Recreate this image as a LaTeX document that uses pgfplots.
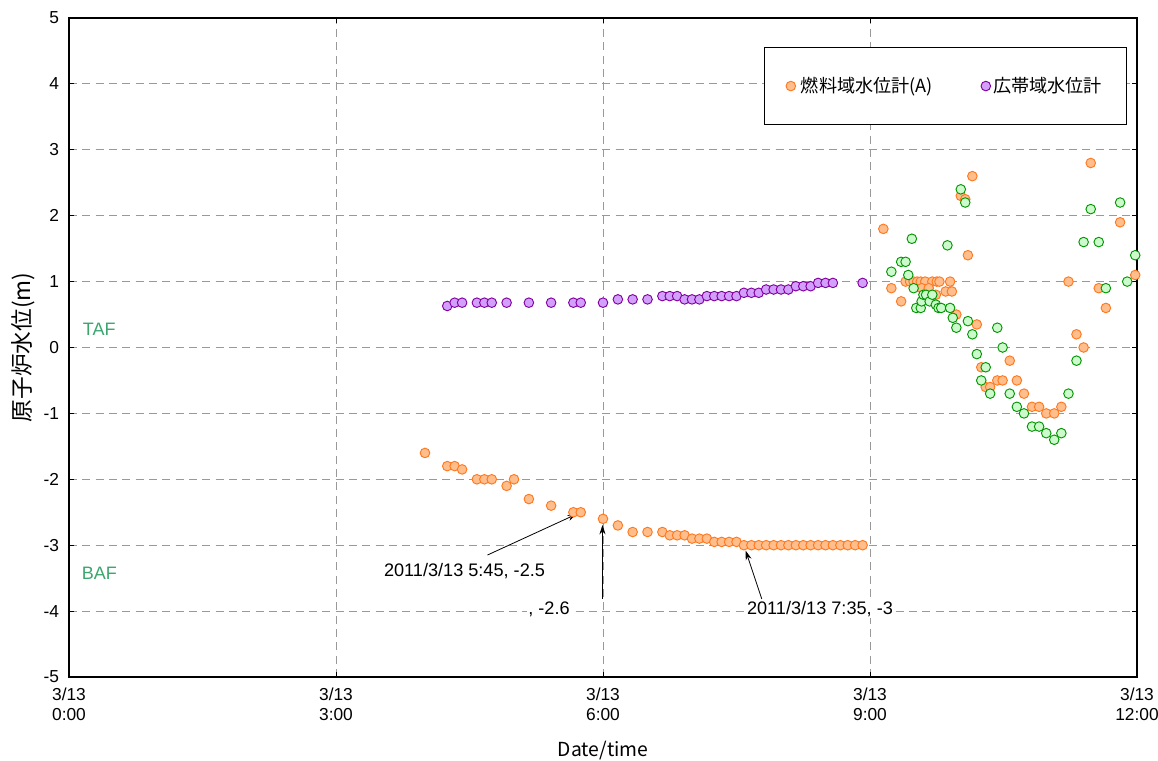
\documentclass[border=0pt]{standalone}
\usepackage{fontspec}
\setmainfont{Liberation Sans}
\newfontfamily\jp{Noto Sans CJK JP}
\usepackage{pgfplots}
\pgfplotsset{compat=1.18}
\usetikzlibrary{arrows.meta}
\definecolor{orfill}{RGB}{255,190,140}
\definecolor{ordraw}{RGB}{255,120,30}
\definecolor{pufill}{RGB}{210,160,250}
\definecolor{pudraw}{RGB}{130,0,160}
\definecolor{grfill}{RGB}{205,250,205}
\definecolor{grdraw}{RGB}{0,150,0}
\definecolor{tafc}{RGB}{60,165,110}
\begin{document}
\begin{tikzpicture}
\begin{axis}[
  scale only axis, width=801pt, height=494.25pt,
  xmin=0, xmax=12, ymin=-5, ymax=5,
  xtick={0,3,6,9,12},
  xticklabels={{3/13\\0:00},{3/13\\3:00},{3/13\\6:00},{3/13\\9:00},{3/13\\12:00}},
  ytick={-5,-4,...,5},
  /pgf/number format/assume math mode=true,
  xticklabel style={align=center, font=\fontsize{13}{15}\selectfont, yshift=-5pt},
  yticklabel style={font=\fontsize{13}{15}\selectfont, xshift=-4pt},
  grid=major,
  major grid style={gray!80, dash pattern=on 6pt off 4pt, line width=0.6pt},
  tick align=inside, major tick length=4pt,
  tick style={black, line width=0.6pt},
  axis line style={black, line width=0.8pt},
  xlabel={Date/time},
  xlabel style={font=\jp\fontsize{14.5}{16}\selectfont, at={(axis description cs:0.5,-0.111)}, anchor=center},
  ylabel={原子炉水位(m)},
  ylabel style={font=\jp\fontsize{17}{19}\selectfont, at={(axis description cs:-0.043,0.5)}, anchor=center},
  legend columns=2,
  legend style={at={(axis description cs:0.651,0.956)}, anchor=north west, draw=black, line width=0.6pt,
    font=\jp\fontsize{13.6}{16}\selectfont, inner xsep=16pt, inner ysep=20.5pt,
    /tikz/column 1/.style={column sep=2pt},
    /tikz/column 2/.style={column sep=34pt}},
  legend image code/.code={\draw[mark repeat=2,mark phase=2,#1] plot coordinates {(0cm,0cm) (0.3cm+2.5pt,0cm) (0.6cm,0cm)};},
  legend cell align=left,
]
\addplot[only marks, mark=*, mark size=3.6pt, mark options={fill=orfill, draw=ordraw, line width=0.7pt}] coordinates {
(4.000,-1.6) (4.250,-1.8) (4.333,-1.8) (4.417,-1.85) (4.583,-2.0) (4.667,-2.0) (4.750,-2.0)
(4.917,-2.1) (5.000,-2.0) (5.167,-2.3) (5.417,-2.4) (5.667,-2.5) (5.750,-2.5) (6.000,-2.6)
(6.167,-2.7) (6.333,-2.8) (6.500,-2.8) (6.667,-2.8) (6.750,-2.85) (6.833,-2.85) (6.917,-2.85)
(7.000,-2.9) (7.083,-2.9) (7.167,-2.9) (7.250,-2.95) (7.333,-2.95) (7.417,-2.95) (7.500,-2.95)
(7.583,-3.0) (7.667,-3.0) (7.750,-3.0) (7.833,-3.0) (7.917,-3.0) (8.000,-3.0) (8.083,-3.0)
(8.167,-3.0) (8.250,-3.0) (8.333,-3.0) (8.417,-3.0) (8.500,-3.0) (8.583,-3.0) (8.667,-3.0)
(8.750,-3.0) (8.833,-3.0) (8.917,-3.0)
(9.15,1.8) (9.24,0.9) (9.35,0.7)
(9.40,1.0) (9.45,1.0) (9.49,1.0) (9.53,1.0) (9.57,1.0) (9.62,1.0) (9.70,1.0) (9.75,1.0) (9.78,1.0) (9.90,1.0)
(9.58,0.9) (9.66,0.9) (9.74,0.8) (9.85,0.85) (9.92,0.85) (9.97,0.5)
(10.02,2.3) (10.07,2.25) (10.15,2.6) (10.10,1.4) (10.20,0.35) (10.25,-0.3) (10.30,-0.6) (10.35,-0.6)
(10.43,-0.5) (10.49,-0.5) (10.57,-0.2) (10.65,-0.5) (10.73,-0.7) (10.82,-0.9) (10.90,-0.9)
(10.98,-1.0) (11.07,-1.0) (11.15,-0.9) (11.23,1.0) (11.32,0.2) (11.40,0.0) (11.48,2.8)
(11.57,0.9) (11.65,0.6) (11.81,1.9) (11.98,1.1)
};
\addlegendentry{燃料域水位計(A)}
\addplot[only marks, mark=*, mark size=3.6pt, mark options={fill=pufill, draw=pudraw, line width=0.7pt}] coordinates {
(4.250,0.63) (4.333,0.68) (4.417,0.68) (4.583,0.68) (4.667,0.68) (4.750,0.68) (4.917,0.68)
(5.167,0.68) (5.417,0.68) (5.667,0.68) (5.750,0.68) (6.000,0.68) (6.167,0.73) (6.333,0.73)
(6.500,0.73) (6.667,0.78) (6.750,0.78) (6.833,0.78) (6.917,0.73) (7.000,0.73) (7.083,0.73)
(7.167,0.78) (7.250,0.78) (7.333,0.78) (7.417,0.78) (7.500,0.78) (7.583,0.83) (7.667,0.83)
(7.750,0.83) (7.833,0.88) (7.917,0.88) (8.000,0.88) (8.083,0.88) (8.167,0.93) (8.250,0.93)
(8.333,0.93) (8.417,0.98) (8.500,0.98) (8.583,0.98) (8.917,0.98)
};
\addlegendentry{広帯域水位計}
\addplot[forget plot, only marks, mark=*, mark size=3.6pt, mark options={fill=grfill, draw=grdraw, line width=0.7pt}] coordinates {
(9.24,1.15) (9.35,1.3) (9.40,1.3) (9.43,1.1) (9.47,1.65) (9.49,0.9) (9.52,0.6) (9.57,0.6)
(9.58,0.7) (9.60,0.8) (9.63,0.8) (9.67,0.7) (9.70,0.8) (9.74,0.65) (9.77,0.6) (9.80,0.6)
(9.87,1.55) (9.90,0.6) (9.93,0.45) (9.97,0.3) (10.02,2.4) (10.07,2.2) (10.10,0.4) (10.15,0.2)
(10.20,-0.1) (10.25,-0.5) (10.30,-0.3) (10.35,-0.7) (10.43,0.3) (10.49,0.0) (10.57,-0.7)
(10.65,-0.9) (10.73,-1.0) (10.82,-1.2) (10.90,-1.2) (10.98,-1.3) (11.07,-1.4) (11.15,-1.3)
(11.23,-0.7) (11.32,-0.2) (11.40,1.6) (11.48,2.1) (11.57,1.6) (11.65,0.9) (11.81,2.2)
(11.89,1.0) (11.98,1.4)
};
\node[font=\fontsize{13.5}{15}\selectfont, text=tafc] at (axis cs:0.34,0.27) {TAF};
\node[font=\fontsize{13.5}{15}\selectfont, text=tafc] at (axis cs:0.34,-3.42) {BAF};
\draw[black, line width=0.6pt, -{Stealth[length=7pt,width=4.5pt]}] (axis cs:4.702,-3.149) -- (axis cs:5.705,-2.527);
\draw[black, line width=0.6pt, -{Stealth[length=7pt,width=4.5pt]}] (axis cs:5.994,-3.816) -- (axis cs:5.994,-2.693);
\draw[black, line width=0.6pt, -{Stealth[length=7pt,width=4.5pt]}] (axis cs:7.784,-3.816) -- (axis cs:7.603,-3.083);
\node[font=\fontsize{13.6}{15}\selectfont, fill=white, inner sep=1pt] at (axis cs:4.444,-3.39) {2011/3/13 5:45, -2.5};
\node[font=\fontsize{13.6}{15}\selectfont, fill=white, inner sep=1pt] at (axis cs:5.393,-3.968) {, -2.6};
\node[font=\fontsize{13.6}{15}\selectfont, fill=white, inner sep=1pt] at (axis cs:8.438,-3.968) {2011/3/13 7:35, -3};
\end{axis}
\pgfresetboundingbox
\path ([shift={(-51.75pt,-62.25pt)}]current axis.south west) rectangle ([shift={(15.75pt,13.5pt)}]current axis.north east);
\end{tikzpicture}
\end{document}
